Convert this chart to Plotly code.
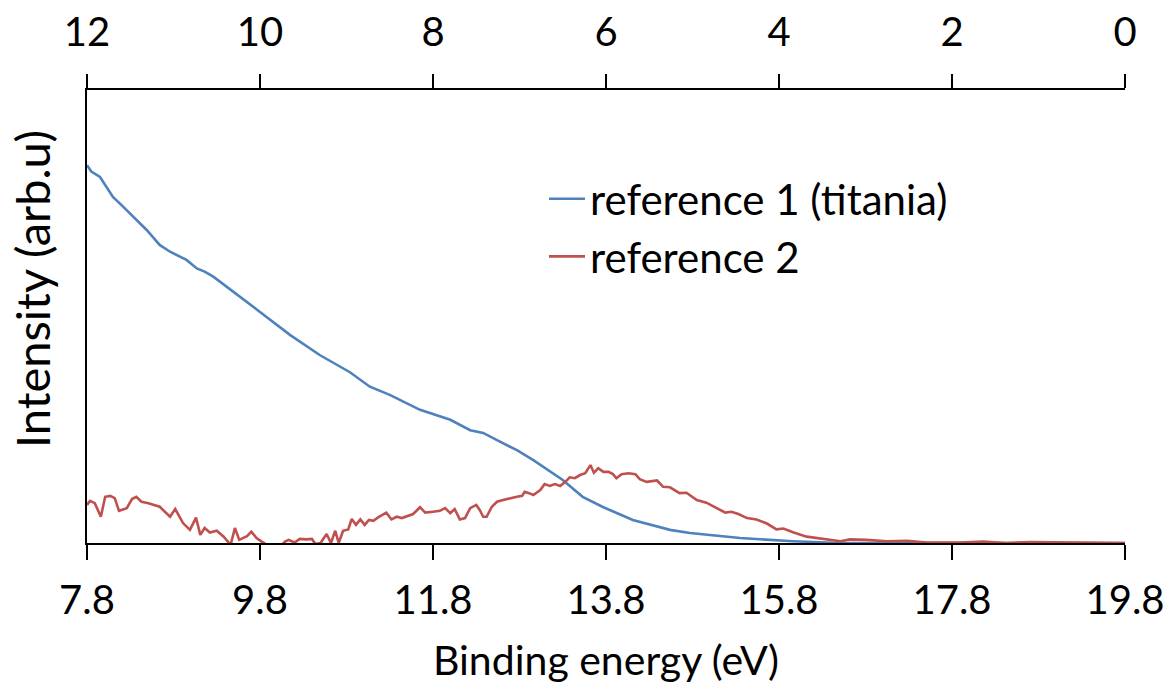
import plotly.graph_objects as go

# Binding energy (eV) and intensity (arb. units) for each reference spectrum
be_ref1 = [7.80, 7.85, 7.95, 8.10, 8.22, 8.37, 8.49, 8.64, 8.76, 8.95, 9.07, 9.16, 9.26,
           9.80, 10.15, 10.49, 10.84, 11.07, 11.30, 11.65, 12.00, 12.23, 12.38, 12.54,
           12.77, 12.96, 13.30, 13.53, 13.77, 14.11, 14.54, 14.77, 15.35, 15.96, 16.51,
           17.50, 18.50, 19.80]
int_ref1 = [0.834, 0.820, 0.808, 0.764, 0.742, 0.713, 0.691, 0.658, 0.643, 0.625, 0.606,
            0.599, 0.588, 0.510, 0.459, 0.415, 0.377, 0.345, 0.327, 0.294, 0.272, 0.249,
            0.243, 0.227, 0.205, 0.183, 0.139, 0.102, 0.079, 0.051, 0.029, 0.022, 0.011,
            0.004, 0.000, 0.000, 0.000, 0.000]

be_ref2 = [7.80, 7.835, 7.89, 7.96, 8.01, 8.07, 8.12, 8.17, 8.26, 8.32, 8.37, 8.43, 8.51,
           8.64, 8.76, 8.82, 8.91, 8.99, 9.06, 9.11, 9.16, 9.22, 9.30, 9.38, 9.46, 9.51,
           9.56, 9.65, 9.70, 9.76, 9.82, 9.88, 9.94, 10.01, 10.09, 10.13, 10.20, 10.26,
           10.34, 10.40, 10.44, 10.50, 10.57, 10.62, 10.67, 10.71, 10.76, 10.82, 10.86,
           10.91, 10.96, 11.01, 11.06, 11.11, 11.17, 11.26, 11.32, 11.38, 11.44, 11.57,
           11.65, 11.71, 11.80, 11.88, 11.94, 12.00, 12.05, 12.11, 12.17, 12.23, 12.30,
           12.34, 12.38, 12.42, 12.48, 12.54, 12.61, 12.69, 12.77, 12.83, 12.86, 12.91,
           12.96, 13.04, 13.09, 13.15, 13.21, 13.27, 13.33, 13.38, 13.44, 13.50, 13.56,
           13.62, 13.66, 13.71, 13.77, 13.83, 13.88, 13.92, 13.98, 14.06, 14.14, 14.19,
           14.27, 14.39, 14.46, 14.54, 14.65, 14.73, 14.85, 14.96, 15.08, 15.18, 15.25,
           15.33, 15.43, 15.54, 15.66, 15.77, 15.85, 15.97, 16.12, 16.27, 16.51, 16.62,
           16.81, 17.05, 17.28, 17.51, 17.89, 18.16, 18.43, 18.70, 19.05, 19.40, 19.80]
int_ref2 = [0.084, 0.093, 0.088, 0.058, 0.102, 0.104, 0.099, 0.071, 0.077, 0.097, 0.102,
            0.091, 0.088, 0.080, 0.058, 0.075, 0.044, 0.029, 0.056, 0.018, 0.033, 0.023,
            0.027, 0.014, -0.004, 0.033, 0.007, 0.015, 0.025, 0.011, 0.003, -0.004, -0.015,
            -0.011, 0.003, 0.007, 0.001, 0.009, 0.008, 0.009, -0.002, 0.000, 0.020, 0.000,
            0.027, 0.000, 0.027, 0.030, 0.053, 0.040, 0.052, 0.040, 0.051, 0.049, 0.057,
            0.067, 0.052, 0.058, 0.055, 0.064, 0.079, 0.067, 0.069, 0.071, 0.077, 0.066,
            0.075, 0.052, 0.055, 0.077, 0.084, 0.073, 0.058, 0.058, 0.080, 0.091, 0.095,
            0.099, 0.102, 0.104, 0.113, 0.110, 0.106, 0.117, 0.130, 0.126, 0.130, 0.126,
            0.135, 0.145, 0.143, 0.150, 0.154, 0.172, 0.155, 0.165, 0.157, 0.157, 0.152,
            0.143, 0.152, 0.154, 0.152, 0.141, 0.135, 0.138, 0.124, 0.123, 0.110, 0.111,
            0.095, 0.089, 0.077, 0.067, 0.069, 0.064, 0.055, 0.052, 0.043, 0.030, 0.032,
            0.023, 0.014, 0.010, 0.004, 0.008, 0.007, 0.004, 0.005, 0.001, 0.001, 0.003,
            0.000, 0.002, 0.001, 0.000, 0.000]

# Secondary (top) scale range
top_range = [12, 0]

FONT = "Lato, 'Open Sans', sans-serif"
TICK_FS = 40
TITLE_FS = 41
LEGEND_FS = 42
YTITLE_FS = 47

fig = go.Figure()
fig.add_trace(go.Scatter(x=be_ref1, y=int_ref1, mode="lines", name="reference 1 (titania)",
                         legendgroup="a",
                         line=dict(color="#4F81BD", width=2.6)))
fig.add_trace(go.Scatter(x=be_ref2, y=int_ref2, mode="lines", name="reference 2",
                         legendgroup="b",
                         line=dict(color="#C0504D", width=2.6)))
# invisible trace that carries the top axis
fig.add_trace(go.Scatter(x=top_range, y=[None, None], xaxis="x2", mode="lines",
                         showlegend=False, hoverinfo="skip"))

fig.update_layout(
    width=1167, height=684,
    margin=dict(l=87, r=42, t=90, b=141, autoexpand=False),
    paper_bgcolor="white", plot_bgcolor="white",
    font=dict(family=FONT, size=TICK_FS, color="black"),
    xaxis=dict(range=[7.8, 19.8], tick0=7.8, dtick=2, tickformat=".1f",
               ticks="outside", ticklen=15, tickwidth=2, tickcolor="black",
               showline=True, linecolor="black", linewidth=2, automargin=False,
               showgrid=False, zeroline=False, ticklabelstandoff=6,
               tickfont=dict(family=FONT, size=TICK_FS),
               title=dict(text="Binding energy (eV)", standoff=25,
                          font=dict(family=FONT, size=TITLE_FS))),
    xaxis2=dict(range=top_range, overlaying="x", side="top", dtick=2,
                ticks="outside", ticklen=14, tickwidth=2, tickcolor="black",
                showline=True, linecolor="black", linewidth=2, automargin=False,
                showgrid=False, zeroline=False, ticklabelstandoff=12,
                tickfont=dict(family=FONT, size=TICK_FS)),
    yaxis=dict(range=[0, 1], showline=True, linecolor="black", linewidth=2,
               showticklabels=False, ticks="", showgrid=False, zeroline=False,
               automargin=False),
    legend=dict(x=(544 - 87) / 1038, y=(543 - 165) / 453, xanchor="left", yanchor="top",
                bgcolor="rgba(0,0,0,0)", font=dict(family=FONT, size=LEGEND_FS),
                traceorder="grouped", tracegroupgap=0, itemwidth=36),
    showlegend=True,
    annotations=[dict(text="Intensity (arb.u)", textangle=-90, xref="paper", yref="paper",
                      x=(32 - 87) / 1038, y=(543 - 289) / 453, xanchor="center",
                      yanchor="middle", showarrow=False,
                      font=dict(family=FONT, size=YTITLE_FS))],
)

fig.write_html("out.html")
